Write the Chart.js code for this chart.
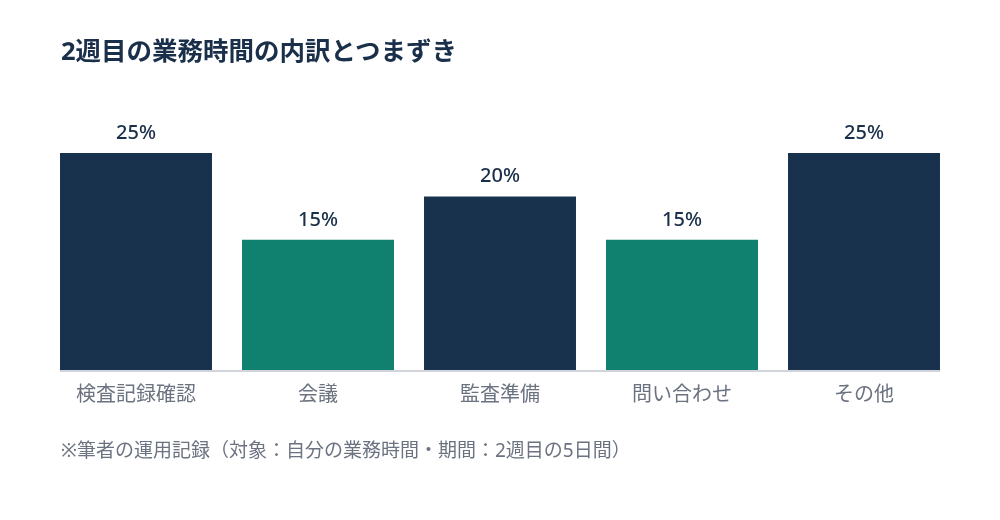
<!DOCTYPE html>
<html lang="ja">
<head>
<meta charset="utf-8">
<script src="https://cdn.jsdelivr.net/npm/chart.js@4"></script>
<style>
  html, body { margin: 0; padding: 0; background: #ffffff; }
  #wrap { position: relative; width: 1000px; height: 520px; overflow: hidden; }
  #title {
    position: absolute; left: 61px; top: 35px; margin: 0;
    font: 700 25.5px "Noto Sans", "Noto Sans CJK JP", sans-serif;
    line-height: 1.2; color: #1a2f4a;
  }
  #note {
    position: absolute; left: 61px; top: 439px; margin: 0;
    font: 400 19px "Noto Sans", "Noto Sans CJK JP", sans-serif;
    line-height: 1.2; color: #6b7280;
  }
  #box { position: absolute; left: 0; top: 0; width: 1000px; height: 520px; }
</style>
</head>
<body>
<div id="wrap">
  <div id="box"><canvas id="workChart"></canvas></div>
  <h1 id="title">2週目の業務時間の内訳とつまずき</h1>
  <p id="note">※筆者の運用記録（対象：自分の業務時間・期間：2週目の5日間）</p>
</div>
<script>
// categories and values (percent of working time)
var categories = ['検査記録確認', '会議', '監査準備', '問い合わせ', 'その他'];
var shares = [25, 15, 20, 15, 25];
var barColors = ['#18324e', '#10806f', '#18324e', '#10806f', '#18324e'];

// value labels above each bar
var valueLabels = {
  id: 'valueLabels',
  afterDatasetsDraw: function(chart) {
    var ctx = chart.ctx;
    var meta = chart.getDatasetMeta(0);
    ctx.save();
    ctx.font = '500 20px "Noto Sans", "Noto Sans CJK JP", sans-serif';
    ctx.fillStyle = '#1a2f4a';
    ctx.textAlign = 'center';
    ctx.textBaseline = 'alphabetic';
    meta.data.forEach(function(bar, i) {
      ctx.fillText(shares[i] + '%', bar.x, bar.y - 14);
    });
    ctx.restore();
  }
};

// baseline running from the first bar to the last bar
var baseLine = {
  id: 'baseLine',
  afterDatasetsDraw: function(chart) {
    var meta = chart.getDatasetMeta(0);
    var first = meta.data[0], last = meta.data[meta.data.length - 1];
    var y = chart.scales.y.getPixelForValue(0);
    var ctx = chart.ctx;
    ctx.save();
    ctx.strokeStyle = '#d1d5db';
    ctx.lineWidth = 2;
    ctx.beginPath();
    ctx.moveTo(first.x - first.width / 2, y + 1);
    ctx.lineTo(last.x + last.width / 2, y + 1);
    ctx.stroke();
    ctx.restore();
  }
};

var ctx = document.getElementById('workChart').getContext('2d');
var workChart = new Chart(ctx, {
  type: 'bar',
  data: {
    labels: categories,
    datasets: [{
      data: shares,
      backgroundColor: barColors,
      borderWidth: 0,
      barPercentage: 0.835,
      categoryPercentage: 1.0
    }]
  },
  options: {
    responsive: true,
    maintainAspectRatio: false,
    animation: false,
    layout: { padding: { top: 153, left: 45, right: 45, bottom: 100 } },
    plugins: {
      legend: { display: false },
      tooltip: { enabled: false }
    },
    scales: {
      x: {
        grid: { display: false, drawTicks: false },
        border: { display: false },
        ticks: {
          padding: 13,
          color: '#6b7280',
          font: { family: '"Noto Sans", "Noto Sans CJK JP", sans-serif', size: 20 }
        }
      },
      y: {
        display: false,
        min: 0,
        max: 25
      }
    }
  },
  plugins: [valueLabels, baseLine]
});
</script>
</body>
</html>
